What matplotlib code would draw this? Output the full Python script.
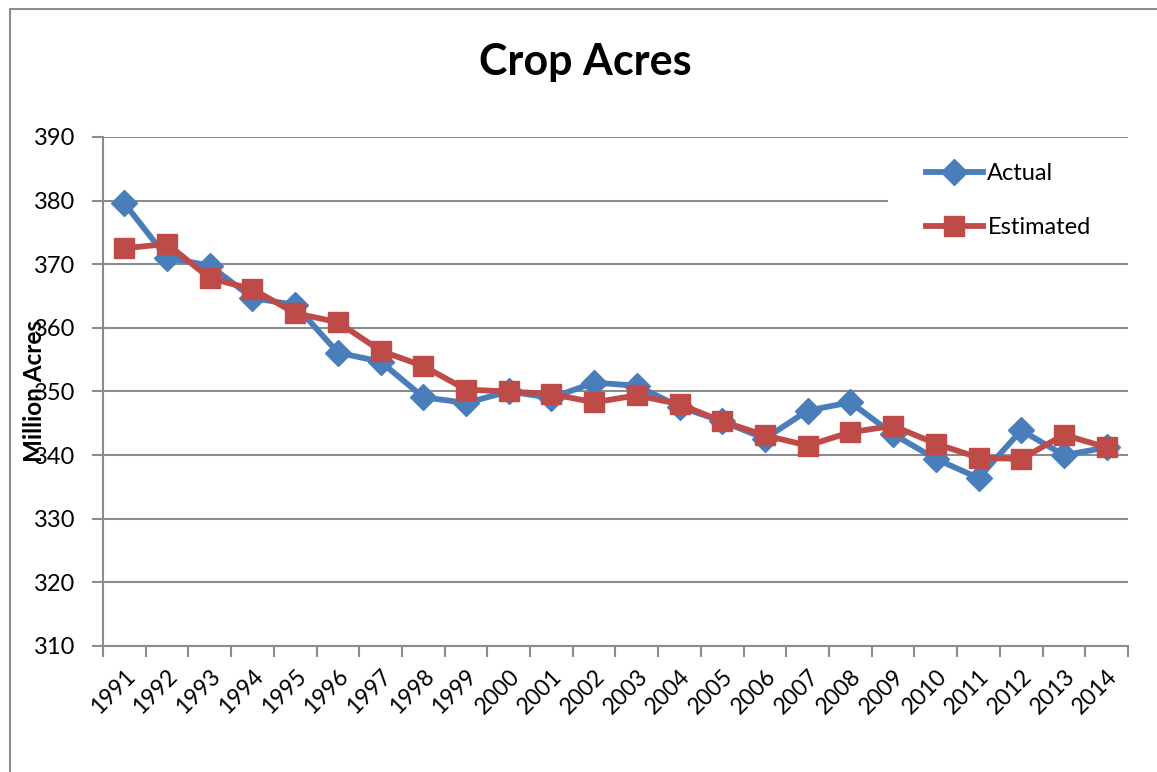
import matplotlib
matplotlib.use("Agg")
import matplotlib.pyplot as plt
import matplotlib.transforms as mtransforms
from matplotlib.patches import Rectangle

years = [str(y) for y in range(1991, 2015)]
actual = [379.6, 371.0, 369.8, 364.7, 363.6, 356.1, 354.7, 349.1, 348.2, 350.0,
          349.0, 351.4, 350.9, 347.6, 345.3, 342.6, 347.0, 348.3, 343.3, 339.4,
          336.4, 343.9, 340.0, 341.2]
estimated = [372.5, 373.2, 367.8, 366.1, 362.3, 360.9, 356.4, 354.0, 350.3, 350.0,
             349.6, 348.3, 349.4, 348.0, 345.3, 343.1, 341.5, 343.6, 344.6, 341.8,
             339.6, 339.4, 343.2, 341.2]

plt.rcParams['font.family'] = ['Lato', 'DejaVu Sans']
GRID = "#8c8c8c"
W, H = 1157, 772

fig = plt.figure(figsize=(W / 100, H / 100), dpi=100)
ax = fig.add_axes([103 / W, 1 - 646 / H, (1128 - 103) / W, (646 - 137) / H])

x = list(range(len(years)))
ax.plot(x, actual, color="#4A7EBB", lw=4.2, marker="D", ms=13,
        mec="#4A7EBB", label="Actual", zorder=3)
ax.plot(x, estimated, color="#BE4B48", lw=4.2, marker="s", ms=14,
        mec="#BE4B48", label="Estimated", zorder=4)

ax.set_xlim(-0.5, len(years) - 0.5)
ax.set_ylim(310, 390)
ax.set_yticks(range(310, 391, 10))
ax.yaxis.grid(True, color=GRID, lw=1.5)
ax.set_axisbelow(True)

ax.set_xticks(x)
ax.set_xticklabels(years, rotation=45, ha="right", rotation_mode="anchor", fontsize=16.5)
shift = mtransforms.ScaledTranslation(-8 / 100, 0, fig.dpi_scale_trans)
for lbl in ax.get_xticklabels():
    lbl.set_transform(lbl.get_transform() + shift)
ax.tick_params(axis="x", which="major", length=0, pad=14)
ax.set_xticks([i - 0.5 for i in range(len(years) + 1)], minor=True)
ax.tick_params(axis="x", which="minor", length=8, width=1.5, color=GRID, direction="out")
ax.tick_params(axis="y", length=8, width=1.5, color=GRID, labelsize=17, pad=12)

for side in ("top", "right"):
    ax.spines[side].set_visible(False)
for side in ("left", "bottom"):
    ax.spines[side].set_color(GRID)
    ax.spines[side].set_linewidth(1.5)

# white legend area over the 380 gridline
fig.patches.append(Rectangle((888 / W, 1 - 252 / H), (W - 888) / W, 100 / H,
                             transform=fig.transFigure, facecolor="white",
                             edgecolor="none", zorder=2))

leg = fig.legend(loc="upper left", bbox_to_anchor=(926 / W, 1 - 163 / H),
                 frameon=False, fontsize=17, handlelength=2.4, handletextpad=0.2,
                 labelspacing=1.4, borderpad=0, borderaxespad=0)
leg.set_zorder(5)

fig.text(0.506, 0.92, "Crop Acres", ha="center", va="center",
         fontsize=31, fontweight="bold")
fig.text(35 / W, 1 - 391 / H, "Million Acres", ha="center", va="center",
         rotation=90, fontsize=17.5, fontweight="bold")

fig.patches.append(Rectangle((10 / W, -0.05), 1.1, 1 - 9 / H + 0.05,
                             transform=fig.transFigure,
                             fill=False, edgecolor=GRID, lw=1.5))

fig.savefig("out.png", dpi=100)
